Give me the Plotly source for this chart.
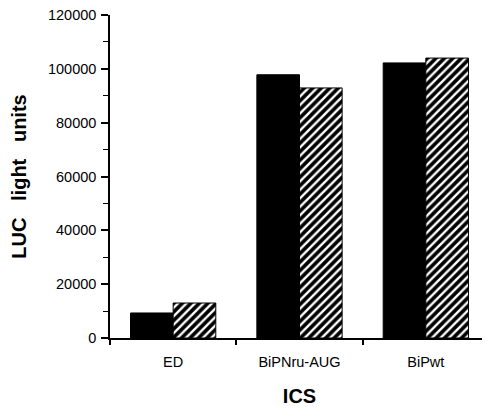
import plotly.graph_objects as go

categories = ["ED", "BiPNru-AUG", "BiPwt"]
solid_values = [9300, 97800, 102200]
hatched_values = [13000, 92900, 104000]
y_tick_values = [0, 20000, 40000, 60000, 80000, 100000, 120000]
y_tick_labels = ["0", "20000", "40000", "60000", "80000", "100000", "120000"]

FONT = "Liberation Sans, Arial, Helvetica, sans-serif"

fig = go.Figure()
fig.add_trace(go.Bar(
    x=categories, y=solid_values, name="solid",
    marker=dict(color="black", line=dict(color="black", width=1)),
))
fig.add_trace(go.Bar(
    x=categories, y=hatched_values, name="hatched",
    marker=dict(color="black", line=dict(color="black", width=1),
                pattern=dict(shape="/", fgcolor="white", bgcolor="black", fgopacity=1,
                             size=6, solidity=0.4, fillmode="replace")),
))

fig.update_layout(
    template="none",
    width=482, height=400,
    margin=dict(l=102, r=1, t=7, b=70, autoexpand=False),
    paper_bgcolor="white", plot_bgcolor="white",
    barmode="group", bargap=0.325, bargroupgap=0,
    showlegend=False,
    font=dict(family=FONT, color="black", size=14),
    xaxis=dict(
        range=[-0.5, 2.5], automargin=False,
        showline=True, linecolor="black", linewidth=1.5,
        ticks="outside", tickson="boundaries", ticklen=5, tickwidth=1.5, tickcolor="black",
        ticklabelstandoff=10, ticklabeloverflow="allow",
        showgrid=False, zeroline=False,
        tickfont=dict(size=14.5),
        title=dict(text="<b>ICS</b>", font=dict(size=20), standoff=20),
    ),
    yaxis=dict(
        range=[0, 120000], automargin=False,
        tickvals=y_tick_values, ticktext=y_tick_labels,
        showline=True, linecolor="black", linewidth=1.5,
        ticks="outside", ticklen=7, tickwidth=1.5, tickcolor="black",
        ticklabelstandoff=2, ticklabeloverflow="allow",
        minor=dict(dtick=10000, ticks="outside", ticklen=5, tickwidth=1, tickcolor="black", showgrid=False),
        showgrid=False, zeroline=False,
        tickfont=dict(size=14.5),
        title=dict(text="<b>LUC   light   units</b>", font=dict(size=20), standoff=20),
    ),
)

fig.write_html("out.html")
